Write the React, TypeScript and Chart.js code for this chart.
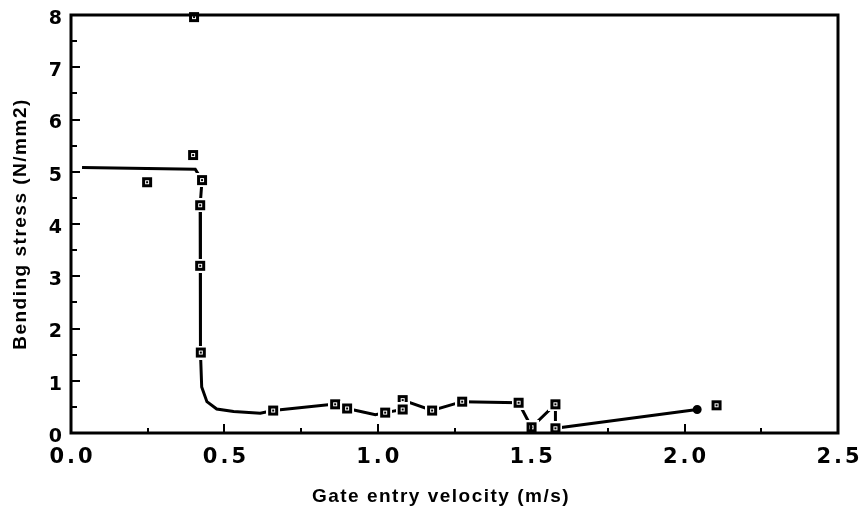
import React, { useEffect, useRef } from "react";
import { Chart, registerables } from "chart.js";

Chart.register(...registerables);

// Measured points (square markers)
const markerX = [0.401, 0.398, 0.248, 0.427, 0.421, 0.421, 0.423, 0.659, 0.861, 0.9, 1.024, 1.081, 1.081, 1.177, 1.275, 1.459, 1.501, 1.579, 1.579, 2.104];
const markerY = [7.96, 5.32, 4.8, 4.84, 4.36, 3.2, 1.54, 0.43, 0.55, 0.47, 0.39, 0.63, 0.45, 0.43, 0.6, 0.58, 0.11, 0.55, 0.09, 0.53];

// Hand-drawn trend curve
const curveX = [0.036, 0.405, 0.427, 0.421, 0.421, 0.423, 0.426, 0.443, 0.475, 0.53, 0.617, 0.659, 0.861, 0.9, 0.992, 1.024, 1.081, 1.081, 1.177, 1.275, 1.459, 1.501, 1.579, 1.579, 2.041];
const curveY = [5.08, 5.05, 4.84, 4.36, 3.2, 1.54, 0.88, 0.6, 0.46, 0.41, 0.38, 0.43, 0.555, 0.47, 0.35, 0.39, 0.45, 0.63, 0.43, 0.6, 0.58, 0.11, 0.55, 0.09, 0.45];

// Axes
const xTickValues = [0, 0.5, 1.0, 1.5, 2.0, 2.5];
const xTickLabels = ["0.0", "0.5", "1.0", "1.5", "2.0", "2.5"];
const xMinorTicks = [0.25, 0.75, 1.25, 1.75, 2.25];
const yTickValues = [0, 1, 2, 3, 4, 5, 6, 7, 8];
const yTickLabels = ["0", "1", "2", "3", "4", "5", "6", "7", "8"];
const yMinorTicks = [0.5, 1.5, 2.5, 3.5, 4.5, 5.5, 6.5, 7.5];
const xTitle = "Gate entry velocity (m/s)";
const yTitle = "Bending stress (N/mm2)";

function makeMarker(): HTMLCanvasElement {
  const c = document.createElement("canvas");
  c.width = 14;
  c.height = 14;
  const g = c.getContext("2d")!;
  g.fillStyle = "#fff";
  g.fillRect(0, 0, 14, 14);
  g.fillStyle = "#000";
  g.fillRect(2, 2, 10, 10);
  g.strokeStyle = "#fff";
  g.lineWidth = 1;
  g.strokeRect(5.5, 5.5, 3, 3);
  return c;
}

const framePlugin = {
  id: "framePlugin",
  afterDraw(chart: any) {
    const ctx = chart.ctx as CanvasRenderingContext2D;
    const xs = chart.scales.x;
    const ys = chart.scales.y;
    const a = chart.chartArea;
    ctx.save();
    ctx.strokeStyle = "#000";
    ctx.lineWidth = 3;
    ctx.strokeRect(a.left, a.top, a.right - a.left, a.bottom - a.top);

    ctx.lineWidth = 2;
    ctx.beginPath();
    xTickValues.forEach((v) => {
      const px = Math.round(xs.getPixelForValue(v));
      ctx.moveTo(px, a.bottom);
      ctx.lineTo(px, a.bottom - 9);
    });
    xMinorTicks.forEach((v) => {
      const px = Math.round(xs.getPixelForValue(v));
      ctx.moveTo(px, a.bottom);
      ctx.lineTo(px, a.bottom - 5);
    });
    yTickValues.forEach((v) => {
      const py = Math.round(ys.getPixelForValue(v));
      ctx.moveTo(a.left, py);
      ctx.lineTo(a.left + 9, py);
    });
    yMinorTicks.forEach((v) => {
      const py = Math.round(ys.getPixelForValue(v));
      ctx.moveTo(a.left, py);
      ctx.lineTo(a.left + 6, py);
    });
    ctx.stroke();

    ctx.fillStyle = "#000";
    // x tick labels
    (ctx as any).letterSpacing = "3px";
    ctx.font = 'bold 21px "DejaVu Sans"';
    ctx.textAlign = "center";
    ctx.textBaseline = "middle";
    xTickValues.forEach((v, i) => {
      ctx.fillText(xTickLabels[i], xs.getPixelForValue(v) + 1.5, a.bottom + 25);
    });
    // y tick labels
    (ctx as any).letterSpacing = "0px";
    ctx.font = 'bold 19px "DejaVu Sans"';
    ctx.textAlign = "right";
    yTickValues.forEach((v, i) => {
      ctx.fillText(yTickLabels[i], a.left - 9, ys.getPixelForValue(v) + 4);
    });
    // titles
    (ctx as any).letterSpacing = "1.5px";
    ctx.font = 'bold 19px "Liberation Sans"';
    ctx.textAlign = "center";
    ctx.fillText(xTitle, 441, 497);
    ctx.translate(21, 224);
    ctx.rotate(-Math.PI / 2);
    ctx.fillText(yTitle, 0, 0);
    ctx.restore();
  },
};

export default function App() {
  const ref = useRef<HTMLCanvasElement | null>(null);
  useEffect(() => {
    if (!ref.current) return;
    const marker = makeMarker();
    const lastIdx = curveX.length - 1;
    const chart = new Chart(ref.current, {
      type: "scatter",
      data: {
        datasets: [
          {
            label: "Measured",
            data: markerX.map((x, i) => ({ x, y: markerY[i] })),
            pointStyle: marker as any,
            pointRadius: 7,
            showLine: false,
            clip: false as any,
            order: 0,
          },
          {
            label: "Trend",
            data: curveX.map((x, i) => ({ x, y: curveY[i] })),
            showLine: true,
            borderColor: "#000",
            backgroundColor: "#000",
            borderWidth: 3,
            tension: 0,
            pointRadius: (c: any) => (c.dataIndex === lastIdx ? 3 : 0),
            pointStyle: "circle",
            order: 1,
          },
        ],
      },
      options: {
        responsive: false,
        animation: false,
        layout: { padding: { left: 71, top: 15, right: 21, bottom: 82 } },
        plugins: { legend: { display: false }, tooltip: { enabled: false } },
        scales: {
          x: { type: "linear", min: 0, max: 2.5, display: false },
          y: { type: "linear", min: 0, max: 8, display: false },
        },
      },
      plugins: [framePlugin],
    });
    return () => chart.destroy();
  }, []);
  return (
    <div style={{ position: "fixed", left: 0, top: 0, width: 859, height: 515, background: "#fff" }}>
      <canvas ref={ref} width={859} height={515} style={{ display: "block" }} />
    </div>
  );
}
